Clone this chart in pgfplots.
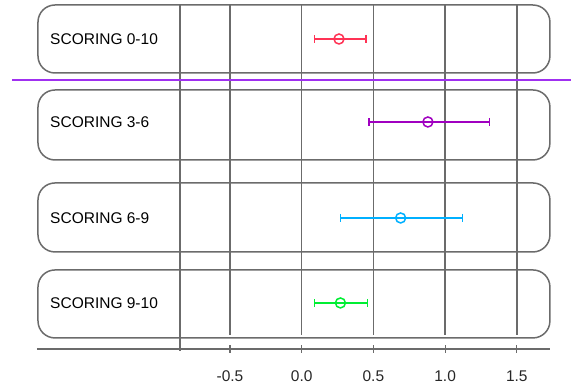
\documentclass[border=0pt]{standalone}
\usepackage{pgfplots}
\pgfplotsset{compat=1.18}
\usepackage{fontspec}
\setmainfont{Liberation Sans}
\definecolor{gridgray}{HTML}{6B6B6B}
\definecolor{cred}{HTML}{FF3355}
\definecolor{cpurple}{HTML}{A000C0}
\definecolor{cblue}{HTML}{00B0FF}
\definecolor{cgreen}{HTML}{00EE33}
\definecolor{cline}{HTML}{A030F0}
\begin{document}
\begin{tikzpicture}
\begin{axis}[
  scale only axis, width=513pt, height=349pt,
  xmin=-1.846, xmax=1.731, ymin=37, ymax=386,
  axis x line*=bottom, axis y line=none,
  axis line style={gridgray, line width=1.5pt},
  xtick={-0.5,0,0.5,1,1.5}, xticklabels={-0.5,0.0,0.5,1.0,1.5},
  ytick=\empty,
  tick align=center, major tick length=8pt,
  tick style={gridgray, line width=1.2pt},
  xticklabel style={font=\fontsize{15.5}{18}\selectfont, text=black!85, anchor=base, yshift=-29pt},
  clip=false,
]
% bounding box of the whole picture
\path (axis cs:-2.104,0) rectangle (axis cs:1.892,386);
% rounded row boxes
\draw[gridgray, line width=1.5pt, rounded corners=17pt] (axis cs:-1.839,381) rectangle (axis cs:1.731,313);
\draw[gridgray, line width=1.5pt, rounded corners=17pt] (axis cs:-1.839,296) rectangle (axis cs:1.731,226);
\draw[gridgray, line width=1.5pt, rounded corners=17pt] (axis cs:-1.839,203) rectangle (axis cs:1.731,134);
\draw[gridgray, line width=1.5pt, rounded corners=17pt] (axis cs:-1.839,116) rectangle (axis cs:1.731,48);
% vertical grid lines
\draw[gridgray, line width=1.5pt] (axis cs:-0.849,381) -- (axis cs:-0.849,35);
\draw[gridgray, line width=1.5pt] (axis cs:-0.5,381) -- (axis cs:-0.5,51);
\draw[gridgray, line width=1.5pt] (axis cs:0,381) -- (axis cs:0,51);
\draw[gridgray, line width=1.5pt] (axis cs:0.5,381) -- (axis cs:0.5,51);
\draw[gridgray, line width=1.5pt] (axis cs:1,381) -- (axis cs:1,51);
\draw[gridgray, line width=1.5pt] (axis cs:1.5,381) -- (axis cs:1.5,51);
% separator line
\draw[cline, line width=2pt] (axis cs:-2.02,306) -- (axis cs:1.878,306);
% labels
\node[anchor=west, inner sep=0pt, font=\fontsize{15.5}{18}\selectfont] at (axis cs:-1.755,347) {SCORING 0-10};
\node[anchor=west, inner sep=0pt, font=\fontsize{15.5}{18}\selectfont] at (axis cs:-1.755,264) {SCORING 3-6};
\node[anchor=west, inner sep=0pt, font=\fontsize{15.5}{18}\selectfont] at (axis cs:-1.755,168) {SCORING 6-9};
\node[anchor=west, inner sep=0pt, font=\fontsize{15.5}{18}\selectfont] at (axis cs:-1.755,83) {SCORING 9-10};
% estimates with intervals
\addplot[cred, line width=1.5pt, mark=o, mark size=5pt, only marks,
  error bars/.cd, x dir=both, x explicit, error mark=|,
  error bar style={line width=1.5pt}, error mark options={cred, line width=1.5pt, mark size=4pt}]
  coordinates {(0.26,347) += (0.19,0) -= (0.17,0)};
\addplot[cpurple, line width=1.5pt, mark=o, mark size=5pt, only marks,
  error bars/.cd, x dir=both, x explicit, error mark=|,
  error bar style={line width=1.5pt}, error mark options={cpurple, line width=1.5pt, mark size=4pt}]
  coordinates {(0.88,264) += (0.43,0) -= (0.41,0)};
\addplot[cblue, line width=1.5pt, mark=o, mark size=5pt, only marks,
  error bars/.cd, x dir=both, x explicit, error mark=|,
  error bar style={line width=1.5pt}, error mark options={cblue, line width=1.5pt, mark size=4pt}]
  coordinates {(0.69,168) += (0.43,0) -= (0.42,0)};
\addplot[cgreen, line width=1.5pt, mark=o, mark size=5pt, only marks,
  error bars/.cd, x dir=both, x explicit, error mark=|,
  error bar style={line width=1.5pt}, error mark options={cgreen, line width=1.5pt, mark size=4pt}]
  coordinates {(0.27,83) += (0.19,0) -= (0.18,0)};
\end{axis}
\end{tikzpicture}
\end{document}
